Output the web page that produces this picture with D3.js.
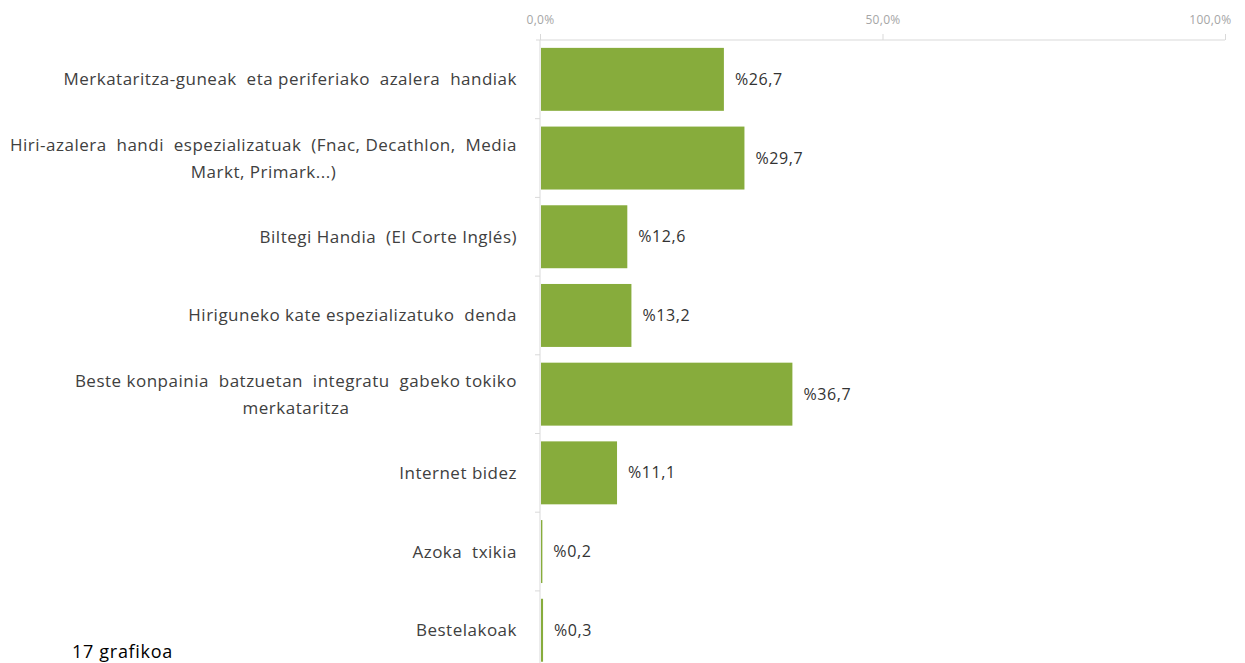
<!DOCTYPE html>
<html>
<head>
<meta charset="utf-8">
<script src="https://cdn.jsdelivr.net/npm/d3@7"></script>
<style>
  body { margin: 0; background: #fff; }
  svg { display: block; font-family: "Open Sans", sans-serif; }
  .cat { white-space: pre; }
</style>
</head>
<body>
<svg id="chart" width="1245" height="663"></svg>
<script>
// categories (line breaks where the label wraps, spacing as in the source)
const categories = [
    "Merkataritza-guneak  eta periferiako  azalera  handiak",
    "Hiri-azalera  handi  espezializatuak  (Fnac, Decathlon,  Media\nMarkt, Primark...)",
    "Biltegi Handia  (El Corte Inglés)",
    "Hiriguneko kate espezializatuko  denda",
    "Beste konpainia  batzuetan  integratu  gabeko tokiko\nmerkataritza",
    "Internet bidez",
    "Azoka  txikia",
    "Bestelakoak"
];
const values = [26.7, 29.7, 12.6, 13.2, 36.7, 11.1, 0.2, 0.3];
const xTicks = [0, 50, 100];
const caption = "17 grafikoa";

const svg = d3.select("#chart");
const plotLeft = 540, plotRight = 1225, plotTop = 40, step = 78.7, labelX = 517;

const x = d3.scaleLinear().domain([0, 100]).range([plotLeft, plotRight]);
const y = d3.scaleBand()
    .domain(categories)
    .range([plotTop, plotTop + step * categories.length])
    .paddingInner(0.2)
    .paddingOuter(0.1);

const fmt = v => d3.format(".1f")(v).replace(".", ",");

// Top axis
const xAxis = svg.append("g")
    .attr("transform", `translate(0,${plotTop})`)
    .call(d3.axisTop(x).tickValues(xTicks).tickSize(6).tickPadding(10)
        .tickFormat(d => fmt(d) + "%"));
xAxis.select(".domain").attr("stroke", "#d9d9d9").attr("d", `M${plotLeft - 4},0H${plotRight}`);
xAxis.selectAll(".tick line").attr("stroke", "#d9d9d9");
xAxis.selectAll(".tick text")
    .attr("fill", "#a6a6a6")
    .style("font-size", "12px")
    .style("letter-spacing", "0.3px")
    .style("font-family", "Open Sans, sans-serif");
// last tick label sits a little left so it stays inside the page
xAxis.selectAll(".tick text").filter(d => d === 100)
    .attr("text-anchor", "end")
    .attr("x", 6);

// Left axis line and category separators
const bounds = d3.range(1, categories.length + 1).map(i => plotTop + i * y.step());
svg.append("line")
    .attr("x1", plotLeft).attr("x2", plotLeft)
    .attr("y1", plotTop).attr("y2", 663)
    .attr("stroke", "#d9d9d9");
svg.selectAll(".sep")
    .data(bounds)
    .enter().append("line")
    .attr("x1", plotLeft - 5).attr("x2", plotLeft)
    .attr("y1", d => d).attr("y2", d => d)
    .attr("stroke", "#d9d9d9");

// Bars
svg.selectAll("rect.bar")
    .data(values)
    .enter().append("rect")
    .attr("class", "bar")
    .attr("x", x(0) + 1)
    .attr("y", (d, i) => y(categories[i]))
    .attr("width", d => Math.max(x(d) - x(0), 0))
    .attr("height", y.bandwidth())
    .attr("fill", "#87ac3c");

// Value labels
svg.selectAll("text.val")
    .data(values)
    .enter().append("text")
    .attr("class", "val")
    .attr("x", d => x(d) + 12)
    .attr("y", (d, i) => y(categories[i]) + y.bandwidth() / 2)
    .attr("dy", "0.35em")
    .attr("fill", "#333")
    .style("font-size", "16px")
    .style("letter-spacing", "0.6px")
    .text(d => "%" + fmt(d));

// Category labels
const labels = svg.selectAll("text.cat")
    .data(categories)
    .enter().append("text")
    .attr("class", "cat")
    .attr("fill", "#404040")
    .style("font-size", "17px")
    .style("letter-spacing", "0.5px");
labels.each(function (d) {
    const lines = d.split("\n");
    const cy = y(d) + y.bandwidth() / 2;
    const lh = 27;
    const spans = d3.select(this).selectAll("tspan")
        .data(lines)
        .enter().append("tspan")
        .attr("x", labelX)
        .attr("text-anchor", "end")
        .attr("y", (l, i) => cy + (i - (lines.length - 1) / 2) * lh)
        .attr("dy", "0.35em")
        .text(l => l);
    // wrapped lines are centred under the first one
    if (lines.length > 1) {
        const w0 = spans.nodes()[0].getComputedTextLength();
        spans.filter((l, i) => i > 0)
            .attr("x", labelX - w0 / 2)
            .attr("text-anchor", "middle");
    }
});

// Caption
svg.append("text")
    .attr("x", 72)
    .attr("y", 658)
    .attr("fill", "#000")
    .style("font-size", "18px")
    .style("letter-spacing", "0.7px")
    .text(caption);
</script>
</body>
</html>
